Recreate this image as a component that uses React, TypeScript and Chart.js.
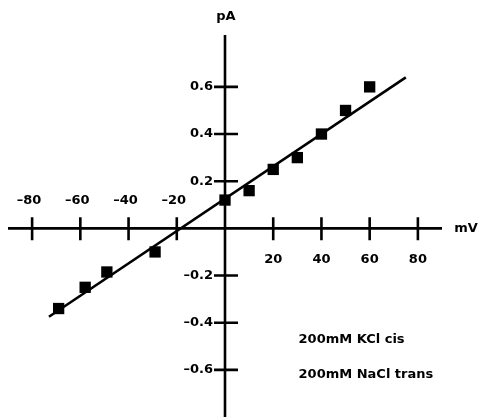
import React, { useEffect, useRef } from "react";
import { Chart, registerables } from "chart.js";

Chart.register(...registerables);

const voltages = [-69, -58, -49, -29, 0, 10, 20, 30, 40, 50, 60];
const currents = [-0.34, -0.25, -0.185, -0.1, 0.12, 0.16, 0.25, 0.3, 0.4, 0.5, 0.6];
const fitX = [-73, 75];
const fitY = [-0.375, 0.64];
const xTicks = [-80, -60, -40, -20, 20, 40, 60, 80];
const yTicks = [-0.6, -0.4, -0.2, 0.2, 0.4, 0.6];
const notes = ["200mM KCl cis", "200mM NaCl trans"];

const FONT = "bold 13px 'DejaVu Sans', 'Liberation Sans', Arial, sans-serif";

const axesPlugin = {
  id: "crossAxes",
  beforeDatasetsDraw(chart: any) {
    const ctx = chart.ctx;
    const xs = chart.scales.x;
    const ys = chart.scales.y;
    const x0 = xs.getPixelForValue(0);
    const y0 = ys.getPixelForValue(0);
    ctx.save();
    ctx.strokeStyle = "#000";
    ctx.fillStyle = "#000";
    ctx.lineWidth = 2.6;
    ctx.lineCap = "butt";
    // axes
    ctx.beginPath();
    ctx.moveTo(xs.getPixelForValue(-90), y0);
    ctx.lineTo(xs.getPixelForValue(90), y0);
    ctx.moveTo(x0, ys.getPixelForValue(0.82));
    ctx.lineTo(x0, ys.getPixelForValue(-0.8));
    ctx.stroke();
    // ticks
    ctx.beginPath();
    xTicks.forEach((v) => {
      const px = xs.getPixelForValue(v);
      ctx.moveTo(px, y0 - 11);
      ctx.lineTo(px, y0 + 12);
    });
    yTicks.forEach((v) => {
      const py = ys.getPixelForValue(v);
      ctx.moveTo(x0 - 11, py);
      ctx.lineTo(x0 + 13, py);
    });
    ctx.stroke();
    ctx.font = FONT;
    ctx.textBaseline = "middle";
    ctx.textAlign = "center";
    xTicks.forEach((v) => {
      const px = xs.getPixelForValue(v);
      const label = v < 0 ? "\u2013" + Math.abs(v) : String(v);
      ctx.fillText(label, px - (v < 0 ? 3 : 0), v < 0 ? y0 - 28 : y0 + 31);
    });
    ctx.textAlign = "right";
    yTicks.forEach((v) => {
      const py = ys.getPixelForValue(v);
      const label = v < 0 ? "\u2013" + Math.abs(v).toFixed(1) : v.toFixed(1);
      ctx.fillText(label, x0 - 12, py);
    });
    ctx.textAlign = "center";
    ctx.fillText("mV", xs.getPixelForValue(90) + 24, y0);
    ctx.fillText("pA", x0 + 1, ys.getPixelForValue(0.82) - 18);
    ctx.textAlign = "left";
    ctx.fillText(notes[0], xs.getPixelForValue(30.5), ys.getPixelForValue(-0.47));
    ctx.fillText(notes[1], xs.getPixelForValue(30.5), ys.getPixelForValue(-0.62));
    ctx.restore();
  },
};

export default function App() {
  const ref = useRef<HTMLCanvasElement>(null);
  useEffect(() => {
    if (!ref.current) return;
    const chart = new Chart(ref.current, {
      type: "scatter",
      data: {
        datasets: [
          {
            type: "line",
            data: fitX.map((x, i) => ({ x, y: fitY[i] })),
            borderColor: "#000",
            borderWidth: 2.6,
            pointRadius: 0,
            fill: false,
          } as any,
          {
            data: voltages.map((x, i) => ({ x, y: currents[i] })),
            pointStyle: "rect",
            pointRadius: 8,
            backgroundColor: "#000",
            borderColor: "#000",
            borderWidth: 0,
          },
        ],
      },
      options: {
        animation: false,
        responsive: false,
        devicePixelRatio: 1,
        layout: { autoPadding: false, padding: { left: 8, right: 38, top: 35, bottom: 1 } },
        plugins: { legend: { display: false }, tooltip: { enabled: false } },
        scales: {
          x: { type: "linear", min: -90, max: 90, display: false },
          y: { type: "linear", min: -0.8, max: 0.82, display: false },
        },
      },
      plugins: [axesPlugin],
    });
    return () => chart.destroy();
  }, []);
  return (
    <div style={{ position: "fixed", left: 0, top: 0, width: 480, height: 418, background: "#fff" }}>
      <canvas ref={ref} width={480} height={418} style={{ width: 480, height: 418 }} />
    </div>
  );
}
